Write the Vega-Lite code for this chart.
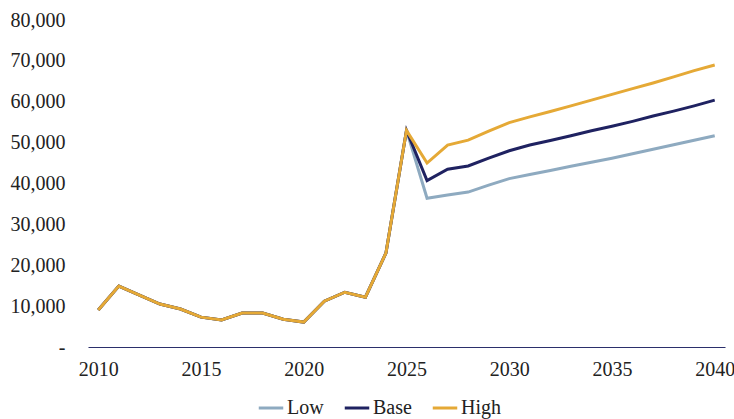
{
  "$schema": "https://vega.github.io/schema/vega-lite/v6.json",
  "width": 637,
  "height": 327,
  "padding": {"left": 10, "top": 10, "right": 9, "bottom": 3},
  "background": "white",
  "data": {
    "values": [
      {"year": 2010, "scenario": "Low", "value": 9050}, {"year": 2011, "scenario": "Low", "value": 14900},
      {"year": 2012, "scenario": "Low", "value": 12700}, {"year": 2013, "scenario": "Low", "value": 10500},
      {"year": 2014, "scenario": "Low", "value": 9300}, {"year": 2015, "scenario": "Low", "value": 7300},
      {"year": 2016, "scenario": "Low", "value": 6600}, {"year": 2017, "scenario": "Low", "value": 8300},
      {"year": 2018, "scenario": "Low", "value": 8300}, {"year": 2019, "scenario": "Low", "value": 6800},
      {"year": 2020, "scenario": "Low", "value": 6100}, {"year": 2021, "scenario": "Low", "value": 11200},
      {"year": 2022, "scenario": "Low", "value": 13400}, {"year": 2023, "scenario": "Low", "value": 12200},
      {"year": 2024, "scenario": "Low", "value": 23000}, {"year": 2025, "scenario": "Low", "value": 53000},
      {"year": 2026, "scenario": "Low", "value": 36400}, {"year": 2027, "scenario": "Low", "value": 37200},
      {"year": 2028, "scenario": "Low", "value": 37900}, {"year": 2029, "scenario": "Low", "value": 39600},
      {"year": 2030, "scenario": "Low", "value": 41200}, {"year": 2031, "scenario": "Low", "value": 42200},
      {"year": 2032, "scenario": "Low", "value": 43200}, {"year": 2033, "scenario": "Low", "value": 44200},
      {"year": 2034, "scenario": "Low", "value": 45200}, {"year": 2035, "scenario": "Low", "value": 46200},
      {"year": 2036, "scenario": "Low", "value": 47300}, {"year": 2037, "scenario": "Low", "value": 48400},
      {"year": 2038, "scenario": "Low", "value": 49500}, {"year": 2039, "scenario": "Low", "value": 50600},
      {"year": 2040, "scenario": "Low", "value": 51700},

      {"year": 2010, "scenario": "Base", "value": 9050}, {"year": 2011, "scenario": "Base", "value": 14900},
      {"year": 2012, "scenario": "Base", "value": 12700}, {"year": 2013, "scenario": "Base", "value": 10500},
      {"year": 2014, "scenario": "Base", "value": 9300}, {"year": 2015, "scenario": "Base", "value": 7300},
      {"year": 2016, "scenario": "Base", "value": 6600}, {"year": 2017, "scenario": "Base", "value": 8300},
      {"year": 2018, "scenario": "Base", "value": 8300}, {"year": 2019, "scenario": "Base", "value": 6800},
      {"year": 2020, "scenario": "Base", "value": 6100}, {"year": 2021, "scenario": "Base", "value": 11200},
      {"year": 2022, "scenario": "Base", "value": 13400}, {"year": 2023, "scenario": "Base", "value": 12200},
      {"year": 2024, "scenario": "Base", "value": 23000}, {"year": 2025, "scenario": "Base", "value": 53000},
      {"year": 2026, "scenario": "Base", "value": 40700}, {"year": 2027, "scenario": "Base", "value": 43500},
      {"year": 2028, "scenario": "Base", "value": 44300}, {"year": 2029, "scenario": "Base", "value": 46200},
      {"year": 2030, "scenario": "Base", "value": 48000}, {"year": 2031, "scenario": "Base", "value": 49400},
      {"year": 2032, "scenario": "Base", "value": 50500}, {"year": 2033, "scenario": "Base", "value": 51700},
      {"year": 2034, "scenario": "Base", "value": 52900}, {"year": 2035, "scenario": "Base", "value": 54000},
      {"year": 2036, "scenario": "Base", "value": 55200}, {"year": 2037, "scenario": "Base", "value": 56500},
      {"year": 2038, "scenario": "Base", "value": 57700}, {"year": 2039, "scenario": "Base", "value": 59000},
      {"year": 2040, "scenario": "Base", "value": 60400},

      {"year": 2010, "scenario": "High", "value": 9050}, {"year": 2011, "scenario": "High", "value": 14900},
      {"year": 2012, "scenario": "High", "value": 12700}, {"year": 2013, "scenario": "High", "value": 10500},
      {"year": 2014, "scenario": "High", "value": 9300}, {"year": 2015, "scenario": "High", "value": 7300},
      {"year": 2016, "scenario": "High", "value": 6600}, {"year": 2017, "scenario": "High", "value": 8300},
      {"year": 2018, "scenario": "High", "value": 8300}, {"year": 2019, "scenario": "High", "value": 6800},
      {"year": 2020, "scenario": "High", "value": 6100}, {"year": 2021, "scenario": "High", "value": 11200},
      {"year": 2022, "scenario": "High", "value": 13400}, {"year": 2023, "scenario": "High", "value": 12200},
      {"year": 2024, "scenario": "High", "value": 23000}, {"year": 2025, "scenario": "High", "value": 53000},
      {"year": 2026, "scenario": "High", "value": 45000}, {"year": 2027, "scenario": "High", "value": 49400},
      {"year": 2028, "scenario": "High", "value": 50600}, {"year": 2029, "scenario": "High", "value": 52800},
      {"year": 2030, "scenario": "High", "value": 54900}, {"year": 2031, "scenario": "High", "value": 56300},
      {"year": 2032, "scenario": "High", "value": 57600}, {"year": 2033, "scenario": "High", "value": 59000},
      {"year": 2034, "scenario": "High", "value": 60400}, {"year": 2035, "scenario": "High", "value": 61800},
      {"year": 2036, "scenario": "High", "value": 63200}, {"year": 2037, "scenario": "High", "value": 64600},
      {"year": 2038, "scenario": "High", "value": 66100}, {"year": 2039, "scenario": "High", "value": 67600},
      {"year": 2040, "scenario": "High", "value": 69000}
    ]
  },
  "mark": {"type": "line", "strokeWidth": 3, "strokeJoin": "miter"},
  "encoding": {
    "x": {
      "field": "year", "type": "quantitative",
      "scale": {"domain": [2009.5, 2040.5], "nice": false, "zero": false},
      "axis": {
        "title": null, "values": [2010, 2015, 2020, 2025, 2030, 2035, 2040], "format": "d",
        "grid": false, "ticks": false, "domain": true, "domainColor": "#2b2f6b", "domainWidth": 1.2,
        "labelPadding": 12, "labelFlush": false
      }
    },
    "y": {
      "field": "value", "type": "quantitative",
      "scale": {"domain": [0, 80000], "nice": false},
      "axis": {
        "title": null, "values": [0, 10000, 20000, 30000, 40000, 50000, 60000, 70000, 80000],
        "labelExpr": "datum.value == 0 ? '-' : format(datum.value, ',')",
        "grid": false, "ticks": false, "domain": false, "labelPadding": 23
      }
    },
    "color": {
      "field": "scenario", "type": "nominal",
      "scale": {"domain": ["Low", "Base", "High"], "range": ["#8eaac0", "#1f2261", "#e5a936"]},
      "legend": {
        "title": null, "orient": "none", "direction": "horizontal",
        "legendX": 169, "legendY": 374,
        "symbolType": "stroke", "symbolSize": 600, "symbolStrokeWidth": 3,
        "labelFontSize": 20, "labelOffset": 2, "columnPadding": 14
      }
    },
    "order": {"field": "scenario"}
  },
  "config": {
    "font": "Liberation Serif",
    "view": {"stroke": null},
    "axis": {"labelFont": "Liberation Serif", "labelFontSize": 20, "labelColor": "#222222"},
    "legend": {"labelFont": "Liberation Serif", "labelColor": "#222222"}
  }
}
